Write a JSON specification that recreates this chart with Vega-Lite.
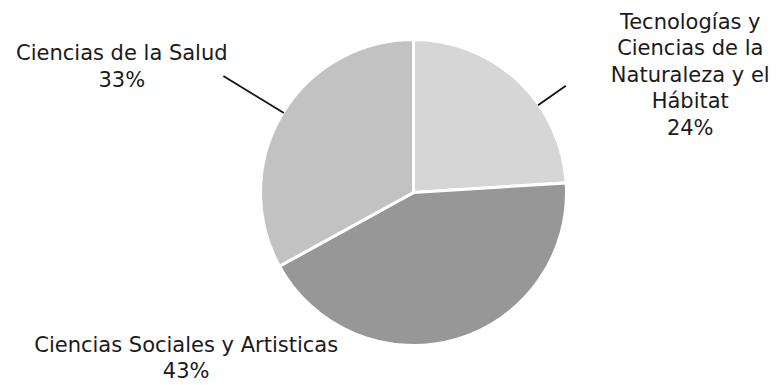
{
  "$schema": "https://vega.github.io/schema/vega-lite/v6.json",
  "width": 727,
  "height": 385,
  "autosize": {"type": "none"},
  "padding": {"left": 50, "right": 0, "top": 0, "bottom": 0},
  "background": "white",
  "config": {"view": {"stroke": null}},
  "data": {
    "values": [
      {"area": "Tecnologías y\nCiencias de la\nNaturaleza y el\nHábitat", "pct": 24, "n": 1},
      {"area": "Ciencias Sociales y Artisticas", "pct": 43, "n": 2},
      {"area": "Ciencias de la Salud", "pct": 33, "n": 3}
    ]
  },
  "transform": [{"calculate": "datum.area + '\\n' + datum.pct + '%'", "as": "label"}],
  "encoding": {
    "theta": {"field": "pct", "type": "quantitative", "stack": true},
    "order": {"field": "n", "type": "quantitative"}
  },
  "layer": [
    {
      "mark": {"type": "arc", "outerRadius": 153, "stroke": "white", "strokeWidth": 3},
      "encoding": {
        "color": {
          "field": "n",
          "type": "nominal",
          "scale": {"domain": [1, 2, 3], "range": ["#d6d6d6", "#979797", "#c2c2c2"]},
          "legend": null
        }
      }
    },
    {
      "mark": {"type": "arc", "innerRadius": 152, "outerRadius": 186, "padAngle": 3, "thetaOffset": 0.206, "fill": null, "stroke": "#111111", "strokeWidth": 1.8},
      "encoding": {"opacity": {"condition": {"test": "datum.n === 1", "value": 1}, "value": 0}}
    },
    {
      "mark": {"type": "arc", "innerRadius": 152, "outerRadius": 223, "padAngle": 3, "thetaOffset": 0.0157, "fill": null, "stroke": "#111111", "strokeWidth": 1.8},
      "encoding": {"opacity": {"condition": {"test": "datum.n === 3", "value": 1}, "value": 0}}
    },
    {
      "mark": {"type": "text", "radius": 153, "dx": 172, "dy": -58, "align": "center", "baseline": "middle", "lineBreak": "\n", "lineHeight": 26.5, "font": "DejaVu Sans", "fontSize": 21, "color": "#1a1a1a"},
      "encoding": {"text": {"condition": {"test": "datum.n === 1", "field": "label"}, "value": ""}}
    },
    {
      "mark": {"type": "text", "radius": 153, "dx": -270, "dy": 6.5, "align": "center", "baseline": "middle", "lineBreak": "\n", "lineHeight": 26.5, "font": "DejaVu Sans", "fontSize": 21, "color": "#1a1a1a"},
      "encoding": {"text": {"condition": {"test": "datum.n === 2", "field": "label"}, "value": ""}}
    },
    {
      "mark": {"type": "text", "radius": 153, "dx": -160, "dy": -61, "align": "center", "baseline": "middle", "lineBreak": "\n", "lineHeight": 27, "font": "DejaVu Sans", "fontSize": 21, "color": "#1a1a1a"},
      "encoding": {"text": {"condition": {"test": "datum.n === 3", "field": "label"}, "value": ""}}
    }
  ]
}
